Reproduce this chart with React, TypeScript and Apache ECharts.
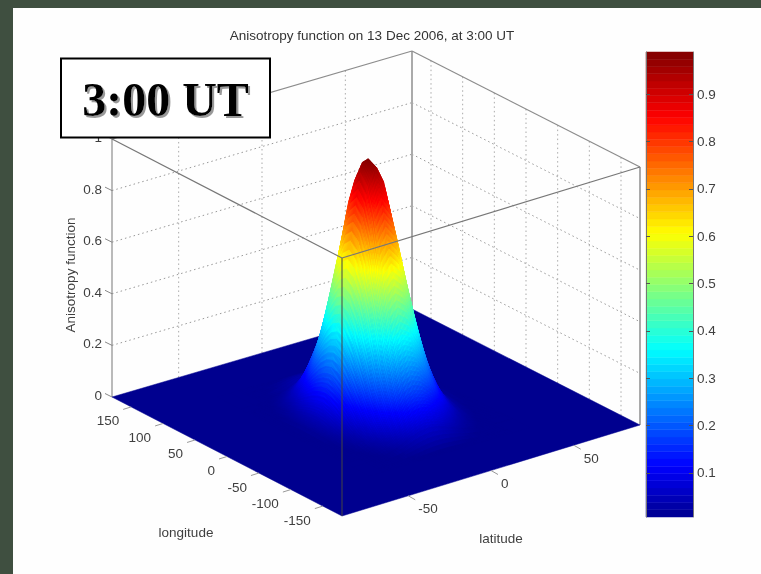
import React, { useEffect, useRef } from "react";
import * as echarts from "echarts";

const titleText = "Anisotropy function on 13 Dec 2006, at 3:00 UT";
const badgeText = "3:00 UT";
const lonTicks = [150, 100, 50, 0, -50, -100, -150];
const latTicks = [-50, 0, 50];
const zTicks = [0, 0.2, 0.4, 0.6, 0.8, 1];
const colorbarTicks = [0.1, 0.2, 0.3, 0.4, 0.5, 0.6, 0.7, 0.8, 0.9];

const lonGrid = [-120, -93, -82, -72, -62, -51.5, -41, -31, -20.5, -10.5, 0, 9, 18.5, 27.5, 37, 46, 55, 64.5, 73.5, 83, 120];
const latGrid = [-50, -41.8, -37.2, -32.6, -28, -23.4, -18.8, -14.2, -9.6, -5, 0.15, 5.3, 10.5, 15.6, 20.8, 25.9, 31, 36.2, 46.5];
const edge = [0, 0, 0, 0, 0, 0, 0, 0, 0, 0, 0, 0, 0, 0, 0, 0, 0, 0, 0];
const zRows = [
  edge,
  [0, .001, .003, .006, .013, .023, .036, .050, .060, .064, .060, .050, .036, .023, .013, .006, .003, .001, 0],
  [0, .002, .005, .012, .023, .041, .065, .089, .107, .114, .107, .089, .065, .041, .023, .012, .005, .002, 0],
  [0, .003, .008, .019, .037, .066, .104, .142, .172, .184, .172, .142, .104, .066, .037, .019, .008, .003, 0],
  [0, .005, .013, .029, .058, .103, .161, .221, .269, .286, .269, .221, .161, .103, .058, .029, .013, .005, 0],
  [0, .007, .017, .040, .080, .142, .222, .306, .370, .395, .370, .306, .222, .142, .080, .040, .017, .007, 0],
  [0, .009, .024, .055, .111, .198, .309, .425, .515, .549, .515, .425, .309, .198, .111, .055, .024, .009, 0],
  [0, .012, .031, .072, .144, .255, .399, .549, .665, .709, .665, .549, .399, .255, .144, .072, .031, .012, 0],
  [0, .014, .037, .086, .173, .306, .479, .659, .810, .865, .810, .659, .479, .306, .173, .086, .037, .014, 0],
  [0, .016, .042, .096, .193, .342, .535, .736, .905, .965, .905, .736, .535, .342, .193, .096, .042, .016, 0],
  [0, .017, .043, .099, .200, .355, .555, .763, .945, .990, .945, .763, .555, .355, .200, .099, .043, .017, 0],
  [0, .016, .042, .096, .193, .342, .535, .736, .905, .965, .905, .736, .535, .342, .193, .096, .042, .016, 0],
  [0, .014, .037, .086, .173, .306, .479, .659, .810, .865, .810, .659, .479, .306, .173, .086, .037, .014, 0],
  [0, .012, .031, .072, .144, .255, .399, .549, .665, .709, .665, .549, .399, .255, .144, .072, .031, .012, 0],
  [0, .009, .024, .055, .111, .198, .309, .425, .515, .549, .515, .425, .309, .198, .111, .055, .024, .009, 0],
  [0, .007, .017, .040, .080, .142, .222, .306, .370, .395, .370, .306, .222, .142, .080, .040, .017, .007, 0],
  [0, .005, .013, .030, .059, .105, .164, .226, .274, .292, .274, .226, .164, .105, .059, .030, .013, .005, 0],
  [0, .003, .008, .019, .036, .065, .102, .140, .169, .180, .169, .140, .102, .065, .036, .019, .008, .003, 0],
  [0, .002, .004, .011, .021, .037, .059, .081, .098, .105, .098, .081, .059, .037, .021, .011, .004, .002, 0],
  [0, .001, .002, .006, .011, .020, .032, .044, .053, .056, .053, .044, .032, .020, .011, .006, .002, .001, 0],
  edge,
];

const LON: [number, number] = [-180, 180];
const LAT: [number, number] = [-90, 90];
const CMIN = 0.007;
const CMAX = 0.989;
const FRONT = [342, 516];
const LEFT = [112, 397];
const RIGHT = [640, 425];
const BACK = [412, 309];
const ZPX = 258;
const SANS = '"Liberation Sans", Arial, sans-serif';
const INK = "#3f3f3f";
const BOX = "#8c8c8c";
const TICK_FONT = 13.5;

const map = echarts.number.linearMap;
function project(lon: number, lat: number, z: number): [number, number] {
  const a = map(lon, LON, [0, 1]);
  const b = map(lat, LAT, [0, 1]);
  const mix = (k: number) =>
    (1 - a) * ((1 - b) * FRONT[k] + b * RIGHT[k]) + a * ((1 - b) * LEFT[k] + b * BACK[k]);
  return [mix(0), mix(1) - z * ZPX];
}

const jetStops: [number, string][] = [
  [0, "#00008f"], [0.11, "#0000ff"], [0.36, "#00ffff"], [0.61, "#ffff00"], [0.86, "#ff0000"], [1, "#800000"],
];
function jet(t: number): string {
  const v = Math.max(0, Math.min(1, t));
  for (let i = 1; i < jetStops.length; i++) {
    if (v <= jetStops[i][0]) {
      const f = (v - jetStops[i - 1][0]) / (jetStops[i][0] - jetStops[i - 1][0]);
      return echarts.color.lerp(f, [jetStops[i - 1][1], jetStops[i][1]]) as string;
    }
  }
  return jetStops[jetStops.length - 1][1];
}
const zColor = (z: number) => jet((z - CMIN) / (CMAX - CMIN));

function surfaceCells(): number[][] {
  const cells: number[][] = [[LON[0], LON[1], LAT[0], LAT[1], 0, 0, 0, 0]];
  for (let i = lonGrid.length - 2; i >= 0; i--) {
    for (let j = latGrid.length - 2; j >= 0; j--) {
      cells.push([lonGrid[i], lonGrid[i + 1], latGrid[j], latGrid[j + 1], zRows[i][j], zRows[i][j + 1], zRows[i + 1][j], zRows[i + 1][j + 1]]);
    }
  }
  return cells;
}

function renderCell(_: any, api: any) {
  const [l0, l1, p0, p1, z00, z01, z10, z11] = [0, 1, 2, 3, 4, 5, 6, 7].map((k) => api.value(k) as number);
  const top = Math.max(z00, z01, z10, z11);
  const n = top <= 0.002 ? 1 : top < 0.03 ? 3 : 6;
  const zAt = (u: number, v: number) => (1 - u) * ((1 - v) * z00 + v * z01) + u * ((1 - v) * z10 + v * z11);
  const children: any[] = [];
  for (let a = n - 1; a >= 0; a--) {
    for (let b = n - 1; b >= 0; b--) {
      const corner = (p: number, q: number) => {
        const u = p / n;
        const v = q / n;
        return project(l0 + u * (l1 - l0), p0 + v * (p1 - p0), zAt(u, v));
      };
      const col = zColor(zAt((a + 0.5) / n, (b + 0.5) / n));
      children.push({
        type: "polygon",
        shape: { points: [corner(a, b), corner(a + 1, b), corner(a + 1, b + 1), corner(a, b + 1)] },
        style: { fill: col, stroke: col, lineWidth: 0.5 },
        silent: true,
      });
    }
  }
  return { type: "group", children };
}

function line(p: number[], q: number[], stroke: string, lineWidth: number, z: number, dash?: number[]) {
  return {
    type: "line", z, silent: true,
    shape: { x1: p[0], y1: p[1], x2: q[0], y2: q[1] },
    style: { stroke, lineWidth, lineDash: dash },
  };
}
function label(text: string, x: number, y: number, align: string, rotation = 0, size = TICK_FONT) {
  return {
    type: "text", x, y, z: 5, rotation, silent: true,
    style: { text, fill: INK, font: `${size}px ${SANS}`, textAlign: align, textVerticalAlign: "middle" },
  };
}

function buildGraphics() {
  const g: any[] = [];
  g.push({ type: "rect", z: 0, silent: true, shape: { x: 0, y: 0, width: 761, height: 8 }, style: { fill: "#3f4f40" } });
  g.push({ type: "rect", z: 0, silent: true, shape: { x: 0, y: 0, width: 13, height: 574 }, style: { fill: "#3f4f40" } });

  const [lonLo, lonHi] = LON;
  const [latLo, latHi] = LAT;
  const dot = [1.5, 3];
  zTicks.slice(1, -1).forEach((z) => {
    g.push(line(project(lonHi, latLo, z), project(lonHi, latHi, z), "#999", 1, 1, dot));
    g.push(line(project(lonHi, latHi, z), project(lonLo, latHi, z), "#999", 1, 1, dot));
  });
  latTicks.forEach((t) => g.push(line(project(lonHi, t, 0), project(lonHi, t, 1), "#aaa", 1, 1, dot)));
  lonTicks.forEach((t) => g.push(line(project(t, latHi, 0), project(t, latHi, 1), "#aaa", 1, 1, dot)));

  // back box edges, behind the surface
  g.push(line(project(lonHi, latHi, 0), project(lonHi, latHi, 1), "#aaa", 2, 1));
  g.push(line(project(lonHi, latLo, 0), project(lonHi, latLo, 1), BOX, 1.2, 1));
  g.push(line(project(lonLo, latHi, 0), project(lonLo, latHi, 1), "#aaa", 2, 1));
  g.push(line(project(lonHi, latLo, 1), project(lonHi, latHi, 1), BOX, 1.2, 1));
  g.push(line(project(lonHi, latHi, 1), project(lonLo, latHi, 1), BOX, 1.2, 1));

  // front box edges, over the surface
  g.push(line(project(lonLo, latLo, 0), project(lonLo, latLo, 1), "#444", 1, 10));
  g.push(line(project(lonHi, latLo, 1), project(lonLo, latLo, 1), "#777", 1.2, 10));
  g.push(line(project(lonLo, latLo, 1), project(lonLo, latHi, 1), "#777", 1.2, 10));

  // ticks and labels
  lonTicks.forEach((t) => {
    const p = project(t, latLo, 0);
    g.push(line(p, [p[0] - 8, p[1] + 2.5], "#999", 1, 5));
    g.push(label(String(t), p[0] - 12, p[1] + 14, "right"));
  });
  latTicks.forEach((t) => {
    const p = project(lonLo, t, 0);
    g.push(line(p, [p[0] + 7, p[1] + 4], "#999", 1, 5));
    g.push(label(String(t), p[0] + 10, p[1] + 13, "left"));
  });
  zTicks.forEach((t) => {
    const p = project(lonHi, latLo, t);
    g.push(line(p, [p[0] - 7, p[1] - 3.5], "#888", 1, 5));
    g.push(label(String(t), p[0] - 10, p[1] - 1.5, "right"));
  });
  g.push(label("Anisotropy function", 70, 275, "center", Math.PI / 2));
  g.push(label("longitude", 186, 532, "center"));
  g.push(label("latitude", 501, 538, "center"));

  // badge
  g.push({ type: "rect", z: 20, silent: true, shape: { x: 61, y: 58.5, width: 209, height: 79 }, style: { fill: "#fff", stroke: "#000", lineWidth: 2 } });
  g.push({
    type: "text", x: 165.5, y: 99, z: 21, silent: true,
    style: {
      text: badgeText, fill: "#000", font: 'bold 48px "Liberation Serif", "Times New Roman", serif',
      textAlign: "center", textVerticalAlign: "middle",
      textShadowColor: "#999", textShadowOffsetX: 2, textShadowOffsetY: 2, textShadowBlur: 1,
    },
  });
  return g;
}

const colorbarLevels = Array.from({ length: 64 }, (_, i) => i);

const colorbarAxis = (position: string, showLabel: boolean) => ({
  type: "value", min: CMIN, max: CMAX, position, z: 5,
  splitLine: { show: false },
  axisLine: { show: true, onZero: false, lineStyle: { color: "#777" } },
  axisTick: { show: true, inside: true, length: 4, customValues: colorbarTicks, lineStyle: { color: "#555" } },
  axisLabel: showLabel
    ? {
        show: true, customValues: colorbarTicks, margin: 4, color: INK, fontFamily: SANS, fontSize: TICK_FONT,
        formatter: (v: number) => v.toFixed(1),
      }
    : { show: false },
});

export default function App() {
  const ref = useRef<HTMLDivElement>(null);
  useEffect(() => {
    document.body.style.margin = "0";
    document.body.style.background = "#fff";
    const chart = echarts.init(ref.current!, undefined, { renderer: "svg" });
    chart.setOption({
      animation: false,
      backgroundColor: "#fefefe",
      title: {
        text: titleText, left: 367, top: 23, textAlign: "center",
        textStyle: { fontFamily: SANS, fontSize: TICK_FONT, fontWeight: "normal", color: "#333" },
      },
      graphic: { elements: buildGraphics() },
      grid: { left: 646, top: 52, width: 47, height: 465 },
      xAxis: { type: "value", min: 0, max: 1, show: false },
      yAxis: [colorbarAxis("right", true), colorbarAxis("left", false)],
      series: [
        {
          type: "custom", coordinateSystem: "none", silent: true, z: 2,
          data: surfaceCells(), renderItem: renderCell,
        },
        {
          type: "custom", coordinateSystem: "cartesian2d", silent: true, z: 2,
          encode: { x: 1, y: 2 },
          data: colorbarLevels.map((i) => [i, 0.5, CMIN + (i / 64) * (CMAX - CMIN), CMIN + ((i + 1) / 64) * (CMAX - CMIN)]),
          renderItem: (_: any, api: any) => {
            const lo = api.coord([0, api.value(2)]);
            const hi = api.coord([1, api.value(3)]);
            const col = jet((api.value(0) + 0.5) / 64);
            return {
              type: "rect",
              shape: { x: lo[0], y: hi[1], width: hi[0] - lo[0], height: lo[1] - hi[1] },
              style: { fill: col, stroke: col, lineWidth: 0.5 },
            };
          },
        },
      ],
    });
    return () => chart.dispose();
  }, []);
  return <div ref={ref} style={{ width: 761, height: 574, filter: "blur(0.5px)" }} />;
}
